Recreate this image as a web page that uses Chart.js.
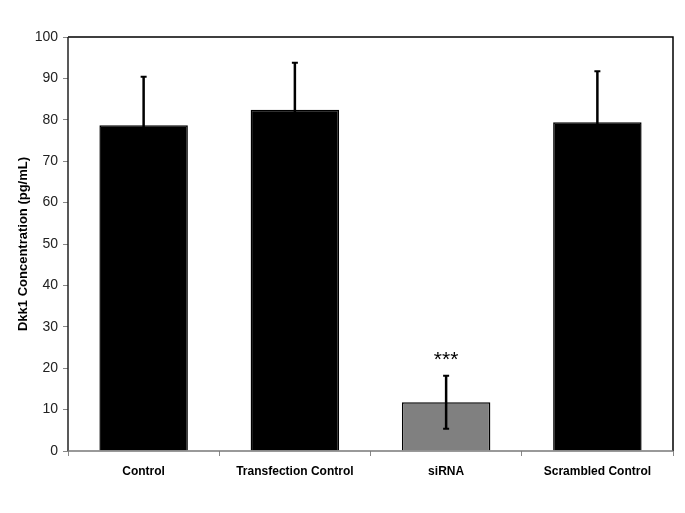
<!DOCTYPE html>
<html>
<head>
<meta charset="utf-8">
<script src="https://cdn.jsdelivr.net/npm/chart.js@4"></script>
<style>
html,body{margin:0;padding:0;background:#fff;}
#wrap{width:685px;height:513px;}
</style>
</head>
<body>
<div id="wrap"><canvas id="c" width="685" height="513"></canvas></div>
<script>
const categories = ["Control", "Transfection Control", "siRNA", "Scrambled Control"];
const values = [78.7, 82.4, 11.8, 79.4];
const errors = [11.7, 11.4, 6.4, 12.3];
const barColors = ["#000000", "#000000", "#808080", "#000000"];
const significance = ["", "", "***", ""];
const yTicks = [0, 10, 20, 30, 40, 50, 60, 70, 80, 90, 100];

const errorBarPlugin = {
  id: 'errorBars',
  afterDatasetsDraw(chart) {
    const ctx = chart.ctx;
    const meta = chart.getDatasetMeta(0);
    const y = chart.scales.y;
    ctx.save();
    meta.data.forEach((bar, i) => {
      const x = bar.x;
      const top = y.getPixelForValue(values[i] + errors[i]);
      const bot = y.getPixelForValue(values[i] - errors[i]);
      ctx.strokeStyle = '#000';
      ctx.lineWidth = 2.5;
      ctx.beginPath();
      ctx.moveTo(x, top); ctx.lineTo(x, bot);
      ctx.stroke();
      ctx.lineWidth = 2;
      ctx.beginPath();
      ctx.moveTo(x - 3, top); ctx.lineTo(x + 3, top);
      ctx.moveTo(x - 3, bot); ctx.lineTo(x + 3, bot);
      ctx.stroke();
      if (significance[i]) {
        ctx.fillStyle = '#000';
        ctx.font = '21px "Liberation Sans", Arial, sans-serif';
        ctx.textAlign = 'center';
        ctx.textBaseline = 'middle';
        ctx.fillText(significance[i], x, top - 15);
      }
    });
    const a = chart.chartArea;
    ctx.lineWidth = 1.5;
    ctx.strokeStyle = '#000';
    ctx.beginPath();
    ctx.moveTo(a.left, a.top); ctx.lineTo(a.right, a.top); ctx.lineTo(a.right, a.bottom);
    ctx.stroke();
    ctx.strokeStyle = '#222';
    ctx.beginPath();
    ctx.moveTo(a.left, a.top); ctx.lineTo(a.left, a.bottom);
    ctx.stroke();
    ctx.strokeStyle = '#777';
    ctx.beginPath();
    ctx.moveTo(a.left, a.bottom); ctx.lineTo(a.right, a.bottom);
    ctx.stroke();
    ctx.restore();
  }
};

new Chart(document.getElementById('c'), {
  type: 'bar',
  data: {
    labels: categories,
    datasets: [{
      data: values,
      backgroundColor: barColors,
      borderColor: '#000',
      borderWidth: 1.5,
      categoryPercentage: 1.0,
      barPercentage: 0.585
    }]
  },
  options: {
    responsive: false,
    animation: false,
    devicePixelRatio: 1,
    layout: { padding: { left: 0, top: 37, right: 12, bottom: 0 } },
    plugins: { legend: { display: false }, tooltip: { enabled: false } },
    scales: {
      x: {
        afterFit(s) { s.height = 62; },
        grid: { display: true, drawOnChartArea: false, offset: true, tickLength: 5, color: '#888' },
        border: { display: false },
        ticks: {
          color: '#000',
          font: { family: '"Liberation Sans", Arial, sans-serif', size: 12, weight: 'bold' },
          padding: 8,
          maxRotation: 0
        }
      },
      y: {
        min: 0, max: 100,
        afterFit(s) { s.width = 68; },
        afterBuildTicks(s) { s.ticks = yTicks.map(v => ({ value: v })); },
        grid: { display: true, drawOnChartArea: false, tickLength: 5, color: '#888' },
        border: { display: false },
        ticks: {
          color: '#222',
          font: { family: '"Liberation Sans", Arial, sans-serif', size: 14 },
          padding: 5
        },
        title: {
          display: true,
          text: 'Dkk1 Concentration (pg/mL)',
          color: '#000',
          font: { family: '"Liberation Sans", Arial, sans-serif', size: 13, weight: 'bold' },
          padding: { top: 16, bottom: 4 }
        }
      }
    }
  },
  plugins: [errorBarPlugin]
});
</script>
</body>
</html>
